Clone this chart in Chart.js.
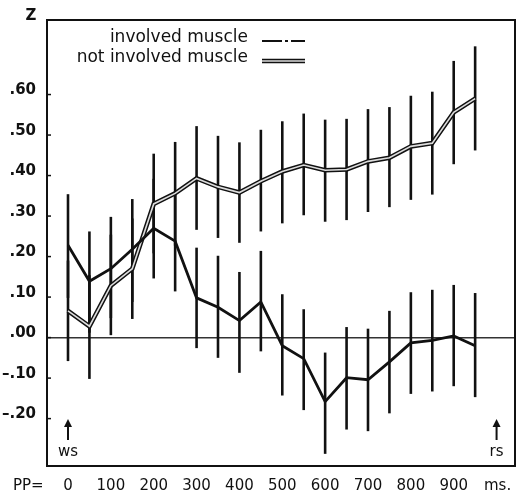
<!DOCTYPE html>
<html>
<head>
<meta charset="utf-8">
<script src="https://cdn.jsdelivr.net/npm/chart.js@4.4.1/dist/chart.umd.min.js"></script>
<style>
  html,body{margin:0;padding:0;background:#fff;}
</style>
</head>
<body>
<canvas id="c" width="517" height="497"></canvas>
<script>
// ======= Data =======
const timesMs = [0,50,100,150,200,250,300,350,400,450,500,550,600,650,700,750,800,850,900,950];

const involved   = [0.228,0.139,0.170,0.218,0.270,0.238,0.098,0.075,0.042,0.088,-0.020,-0.052,-0.158,-0.099,-0.104,-0.060,-0.013,-0.007,0.004,-0.020];
const involvedLo = [0.098,0.012,0.048,0.088,0.146,0.114,-0.026,-0.050,-0.087,-0.034,-0.143,-0.179,-0.287,-0.227,-0.231,-0.187,-0.139,-0.133,-0.120,-0.147];
const involvedHi = [0.354,0.262,0.298,0.342,0.392,0.360,0.222,0.202,0.162,0.214,0.107,0.070,-0.037,0.026,0.022,0.066,0.112,0.118,0.130,0.110];

const notInvolved   = [0.066,0.028,0.128,0.170,0.330,0.356,0.393,0.372,0.358,0.386,0.410,0.426,0.413,0.415,0.435,0.444,0.472,0.480,0.556,0.590];
const notInvolvedLo = [-0.058,-0.102,0.006,0.046,0.208,0.227,0.266,0.246,0.234,0.262,0.282,0.302,0.286,0.290,0.310,0.322,0.340,0.353,0.428,0.462];
const notInvolvedHi = [0.190,0.154,0.254,0.294,0.454,0.483,0.522,0.498,0.482,0.513,0.534,0.553,0.538,0.540,0.564,0.569,0.597,0.607,0.683,0.719];

const xTicks = [0,100,200,300,400,500,600,700,800,900];
const yTicks = [-0.2,-0.1,0,0.1,0.2,0.3,0.4,0.5,0.6];
const legendLabels = ['involved muscle','not involved muscle'];
const wsAt = 0, rsAt = 1000;

const FONT = '"DejaVu Sans", sans-serif';
const INK = '#111';
const GAP = '#dcdcdc';

function pts(ys){return timesMs.map((t,i)=>({x:t,y:ys[i]}));}
function fmtZ(v){
  const r = Math.round(Math.abs(v)*100);
  const s = '.' + String(r).padStart(2,'0');
  return v < -1e-9 ? '\u2013' + s : s;
}

// ======= Plugins =======
const errorBars = {
  id:'errorBars',
  beforeDatasetsDraw(chart){
    const {ctx, scales:{x,y}} = chart;
    ctx.save();
    ctx.strokeStyle = INK;
    ctx.lineWidth = 2.6;
    const draw = (lo,hi)=>{
      timesMs.forEach((t,i)=>{
        const px = x.getPixelForValue(t);
        ctx.beginPath();
        ctx.moveTo(px, y.getPixelForValue(lo[i]));
        ctx.lineTo(px, y.getPixelForValue(hi[i]));
        ctx.stroke();
      });
    };
    draw(involvedLo, involvedHi);
    draw(notInvolvedLo, notInvolvedHi);
    ctx.restore();
  }
};

const decor = {
  id:'decor',
  afterDraw(chart){
    const {ctx, chartArea:a, scales:{x,y}} = chart;
    ctx.save();
    // frame
    ctx.strokeStyle = INK;
    ctx.lineWidth = 2;
    ctx.strokeRect(a.left, a.top, a.right-a.left, a.bottom-a.top);
    // inward ticks on the Z axis
    ctx.lineWidth = 1.5;
    yTicks.forEach(v=>{
      const py = y.getPixelForValue(v);
      ctx.beginPath(); ctx.moveTo(a.left, py); ctx.lineTo(a.left+4, py); ctx.stroke();
    });
    ctx.fillStyle = INK;
    // axis captions
    ctx.font = 'bold 15px ' + FONT;
    ctx.textAlign = 'center'; ctx.textBaseline = 'middle';
    ctx.fillText('Z', 31, 16);
    ctx.font = '15px ' + FONT;
    ctx.textAlign = 'left';
    ctx.fillText('PP=', 13, 486);
    ctx.fillText('ms.', 484, 486);
    // ws / rs markers
    [[wsAt,'ws'],[rsAt,'rs']].forEach(([t,lab])=>{
      const px = x.getPixelForValue(t);
      ctx.lineWidth = 2;
      ctx.beginPath(); ctx.moveTo(px, 440); ctx.lineTo(px, 424); ctx.stroke();
      ctx.beginPath(); ctx.moveTo(px-4, 427); ctx.lineTo(px, 419); ctx.lineTo(px+4, 427); ctx.closePath(); ctx.fill();
      ctx.textAlign = 'center';
      ctx.fillText(lab, px, 452);
    });
    // legend
    ctx.font = '17px ' + FONT;
    ctx.textAlign = 'right'; ctx.textBaseline = 'alphabetic';
    ctx.fillText(legendLabels[0], 248, 42);
    ctx.fillText(legendLabels[1], 248, 62);
    ctx.lineWidth = 1.8;
    ctx.beginPath(); ctx.moveTo(262,41); ctx.lineTo(282,41); ctx.moveTo(285,41); ctx.lineTo(288,41); ctx.moveTo(291,41); ctx.lineTo(305,41); ctx.stroke();
    ctx.lineWidth = 4.6;
    ctx.beginPath(); ctx.moveTo(262,61); ctx.lineTo(305,61); ctx.stroke();
    ctx.strokeStyle = GAP; ctx.lineWidth = 1.6;
    ctx.beginPath(); ctx.moveTo(262,61); ctx.lineTo(305,61); ctx.stroke();
    ctx.restore();
  }
};

// ======= Chart =======
// order: lower value is drawn on top
new Chart(document.getElementById('c'), {
  type:'line',
  data:{
    datasets:[
      {label:legendLabels[0], data:pts(involved), borderColor:INK, borderWidth:2.8, pointRadius:0, tension:0, order:1},
      {label:legendLabels[1], data:pts(notInvolved), borderColor:INK, borderWidth:4.6, pointRadius:0, tension:0, order:3},
      {label:'gap', data:pts(notInvolved), borderColor:GAP, borderWidth:1.6, pointRadius:0, tension:0, order:2}
    ]
  },
  options:{
    responsive:false,
    animation:false,
    layout:{padding:{top:8,right:2,left:0,bottom:0}},
    plugins:{legend:{display:false}, tooltip:{enabled:false}},
    scales:{
      x:{
        type:'linear', min:-49, max:1043,
        afterBuildTicks(s){ s.ticks = xTicks.map(v=>({value:v})); },
        afterFit(s){ s.height = 31; },
        grid:{display:false, drawTicks:false},
        border:{display:false},
        ticks:{color:INK, font:{family:FONT, size:15}, padding:11, maxRotation:0, autoSkip:false,
               callback:v=>String(v)}
      },
      y:{
        type:'linear', min:-0.317, max:0.784,
        afterBuildTicks(s){ s.ticks = yTicks.map(v=>({value:v})); },
        afterFit(s){ s.width = 47; },
        grid:{drawTicks:false, lineWidth:1.5,
              color:c=> (c.tick && Math.abs(c.tick.value)<1e-9) ? '#333' : 'rgba(0,0,0,0)'},
        border:{display:false},
        ticks:{color:INK, font:{family:FONT, size:15, weight:'bold'}, padding:11, labelOffset:-4,
               autoSkip:false, callback:v=>fmtZ(v)}
      }
    }
  },
  plugins:[errorBars, decor]
});
</script>
</body>
</html>
